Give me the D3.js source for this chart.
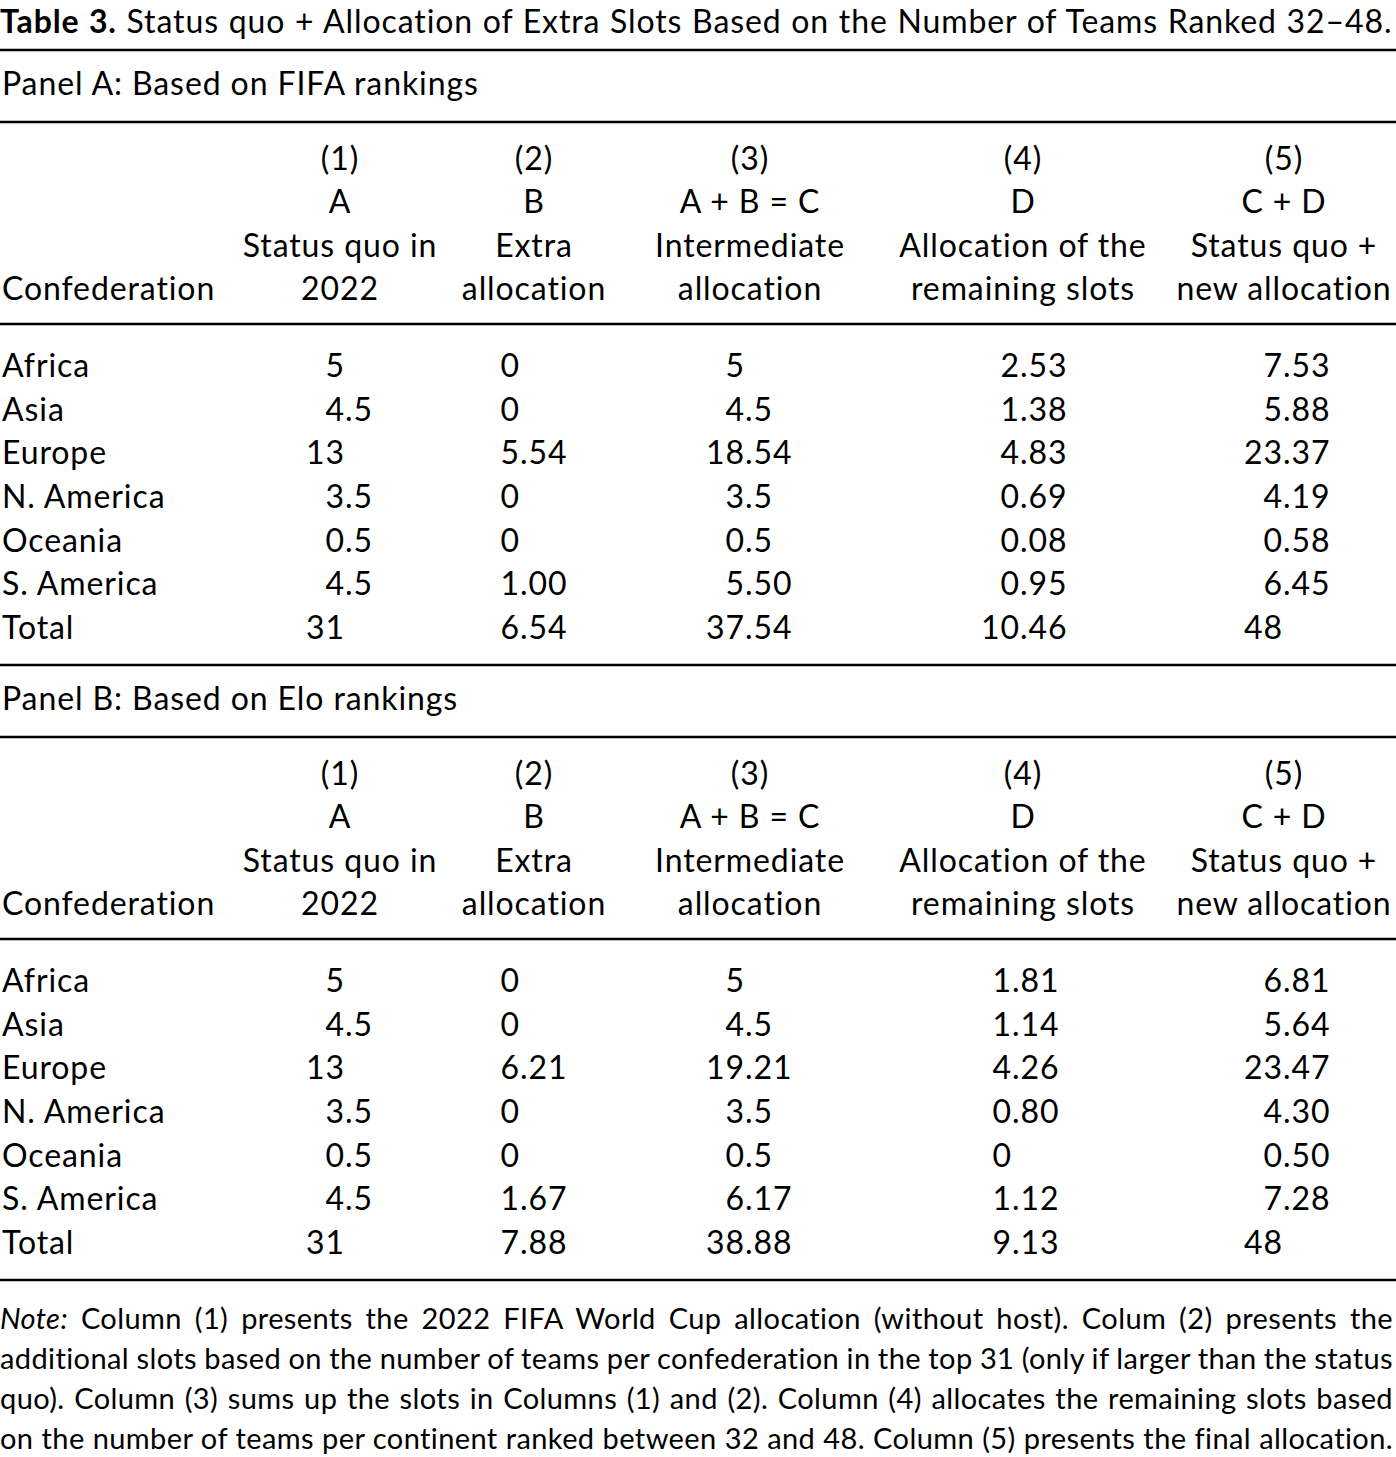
<!DOCTYPE html>
<html>
<head>
<meta charset="utf-8">
<script src="https://cdn.jsdelivr.net/npm/d3@7"></script>
<style>
  body { margin: 0; background: #fff; }
  svg { display: block; font-family: Lato, "Noto Sans", sans-serif; }
</style>
</head>
<body>
<div id="chart"></div>
<script>
// table content
const confederations = ["Africa", "Asia", "Europe", "N. America", "Oceania", "S. America", "Total"];
const columnKeys = ["c1", "c2", "c3", "c4", "c5"];
const columnNumbers = ["(1)", "(2)", "(3)", "(4)", "(5)"];
const columnLetters = ["A", "B", "A + B = C", "D", "C + D"];
const columnTitles1 = ["Status quo in", "Extra", "Intermediate", "Allocation of the", "Status quo +"];
const columnTitles2 = ["2022", "allocation", "allocation", "remaining slots", "new allocation"];

// Panel A: FIFA rankings
const fifaStatusQuo = ["5", "4.5", "13", "3.5", "0.5", "4.5", "31"];
const fifaExtra = ["0", "0", "5.54", "0", "0", "1.00", "6.54"];
const fifaIntermediate = ["5", "4.5", "18.54", "3.5", "0.5", "5.50", "37.54"];
const fifaRemaining = ["2.53", "1.38", "4.83", "0.69", "0.08", "0.95", "10.46"];
const fifaFinal = ["7.53", "5.88", "23.37", "4.19", "0.58", "6.45", "48"];

// Panel B: Elo rankings
const eloStatusQuo = ["5", "4.5", "13", "3.5", "0.5", "4.5", "31"];
const eloExtra = ["0", "0", "6.21", "0", "0", "1.67", "7.88"];
const eloIntermediate = ["5", "4.5", "19.21", "3.5", "0.5", "6.17", "38.88"];
const eloRemaining = ["1.81", "1.14", "4.26", "0.80", "0", "1.12", "9.13"];
const eloFinal = ["6.81", "5.64", "23.47", "4.30", "0.50", "7.28", "48"];

const titleBold = "Table 3.";
const titleRest = "Status quo + Allocation of Extra Slots Based on the Number of Teams Ranked 32–48.";
const noteLines = [
  "Column (1) presents the 2022 FIFA World Cup allocation (without host). Colum (2) presents the",
  "additional slots based on the number of teams per confederation in the top 31 (only if larger than the status",
  "quo). Column (3) sums up the slots in Columns (1) and (2). Column (4) allocates the remaining slots based",
  "on the number of teams per continent ranked between 32 and 48. Column (5) presents the final allocation."
];

const width = 1396, height = 1457;
const fontSize = 32;
const spacing = 0.9;
const left = 2, right = 1393;

const svg = d3.select("#chart").append("svg")
  .attr("width", width)
  .attr("height", height)
  .attr("viewBox", `0 0 ${width} ${height}`);

svg.append("rect").attr("width", width).attr("height", height).attr("fill", "#fff");

// spread words so the line fills the given width (justified text)
function justify(text, target) {
  const node = text.node();
  const natural = node.getComputedTextLength();
  const spaces = (node.textContent.match(/ /g) || []).length;
  if (spaces > 0) text.attr("word-spacing", (target - natural) / spaces);
}

// title
const title = svg.append("text")
  .attr("x", 0).attr("y", 33)
  .attr("font-size", fontSize)
  .attr("letter-spacing", spacing);
title.append("tspan").attr("font-weight", 700).text(titleBold);
title.append("tspan").text("  " + titleRest);
justify(title, right - 0);

function rule(y) {
  svg.append("line")
    .attr("x1", 0).attr("x2", width)
    .attr("y1", y).attr("y2", y)
    .attr("stroke", "#000").attr("stroke-width", 2.6);
}

const headerX = d3.scaleOrdinal().domain(columnKeys).range([340, 534, 750, 1023, 1284]);

function panel(opts) {
  const { label, top, decimals, values } = opts;
  // top = y of the rule above the panel label
  rule(top);
  const g = svg.append("g")
    .attr("font-size", fontSize)
    .attr("letter-spacing", spacing);
  g.append("text")
    .attr("x", left).attr("y", top + 45)
    .text(label);
  rule(top + 72);

  // header block
  const headerRows = [columnNumbers, columnLetters, columnTitles1, columnTitles2];
  const headerY = d3.scalePoint().domain(d3.range(4)).range([top + 120, top + 250]);
  headerRows.forEach((row, i) => {
    g.selectAll(null)
      .data(row)
      .join("text")
      .attr("x", (d, j) => headerX(columnKeys[j]))
      .attr("y", headerY(i))
      .attr("text-anchor", "middle")
      .text(d => d);
  });
  g.append("text")
    .attr("x", left).attr("y", headerY(3))
    .text("Confederation");
  rule(top + 274);

  // body rows
  const y = d3.scalePoint().domain(confederations).range([top + 327, top + 589]);
  const x = d3.scaleOrdinal().domain(columnKeys).range(decimals);

  g.selectAll(null)
    .data(confederations)
    .join("text")
    .attr("x", left)
    .attr("y", d => y(d))
    .text(d => d);

  columnKeys.forEach((key, j) => {
    const cells = values[j].map((v, i) => ({ row: confederations[i], v }));
    const cg = g.append("g");
    // integer part ends at the decimal position
    cg.selectAll(null)
      .data(cells)
      .join("text")
      .attr("x", x(key))
      .attr("y", d => y(d.row))
      .attr("text-anchor", "end")
      .text(d => d.v.split(".")[0]);
    // fractional part starts at the decimal position
    cg.selectAll(null)
      .data(cells.filter(d => d.v.includes(".")))
      .join("text")
      .attr("x", x(key))
      .attr("y", d => y(d.row))
      .text(d => "." + d.v.split(".")[1]);
  });
}

panel({
  label: "Panel A: Based on FIFA rankings",
  top: 50,
  decimals: [345, 520, 745, 1020, 1283],
  values: [fifaStatusQuo, fifaExtra, fifaIntermediate, fifaRemaining, fifaFinal]
});

panel({
  label: "Panel B: Based on Elo rankings",
  top: 665,
  decimals: [345, 520, 745, 1012, 1283],
  values: [eloStatusQuo, eloExtra, eloIntermediate, eloRemaining, eloFinal]
});

rule(1280);

// note
const noteY = d3.scalePoint().domain(d3.range(noteLines.length)).range([1329, 1449]);
noteLines.forEach((line, i) => {
  const t = svg.append("text")
    .attr("x", 0).attr("y", noteY(i))
    .attr("font-size", 29)
    .attr("letter-spacing", 0.4);
  if (i === 0) {
    t.append("tspan").attr("font-style", "italic").text("Note:");
    t.append("tspan").text(" " + line);
  } else {
    t.text(line);
  }
  justify(t, right);
});
</script>
</body>
</html>
